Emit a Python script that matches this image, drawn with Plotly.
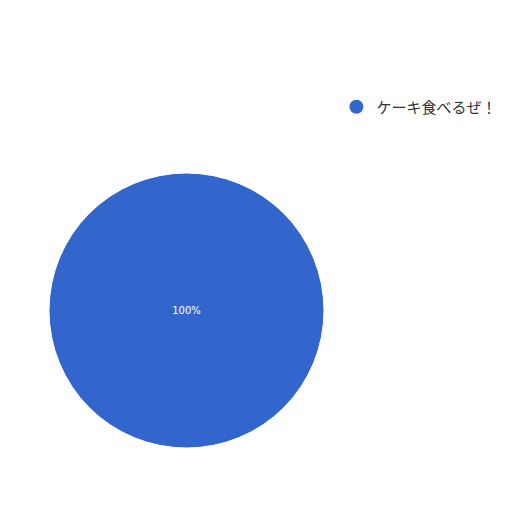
import plotly.graph_objects as go

labels = ["ケーキ食べるぜ！"]
values = [1]
colors = ["#3366cc"]

# the page body adds an 8px margin, so place things 8px up/left
OFF = 8

fig = go.Figure()

# pie itself, legend handled by a dummy scatter so the swatch is a circle
fig.add_trace(go.Pie(
    labels=labels, values=values,
    marker=dict(colors=colors, line=dict(color="white", width=1)),
    textinfo="percent", texttemplate="%{percent:.0%}",
    textfont=dict(color="white", size=10, family="DejaVu Sans"),
    insidetextorientation="horizontal",
    sort=False, showlegend=False, hoverinfo="label+percent",
    domain=dict(x=[(49 - OFF) / 512, (324 - OFF) / 512],
                y=[1 - (448 - OFF) / 512, 1 - (173 - OFF) / 512]),
))

fig.add_trace(go.Scatter(
    x=[None], y=[None], mode="markers", name=labels[0],
    marker=dict(color=colors[0], size=14, symbol="circle"),
))

fig.update_layout(
    width=512, height=512,
    margin=dict(l=0, r=0, t=0, b=0),
    paper_bgcolor="white", plot_bgcolor="white",
    xaxis=dict(visible=False), yaxis=dict(visible=False),
    showlegend=True,
    legend=dict(x=(356 - OFF - 19.6) / 512, y=1 - (107 - OFF) / 512,
                xanchor="left", yanchor="middle",
                font=dict(size=15, color="#333333", family="Noto Sans CJK JP"),
                bgcolor="rgba(0,0,0,0)"),
)

fig.write_html("out.html")
